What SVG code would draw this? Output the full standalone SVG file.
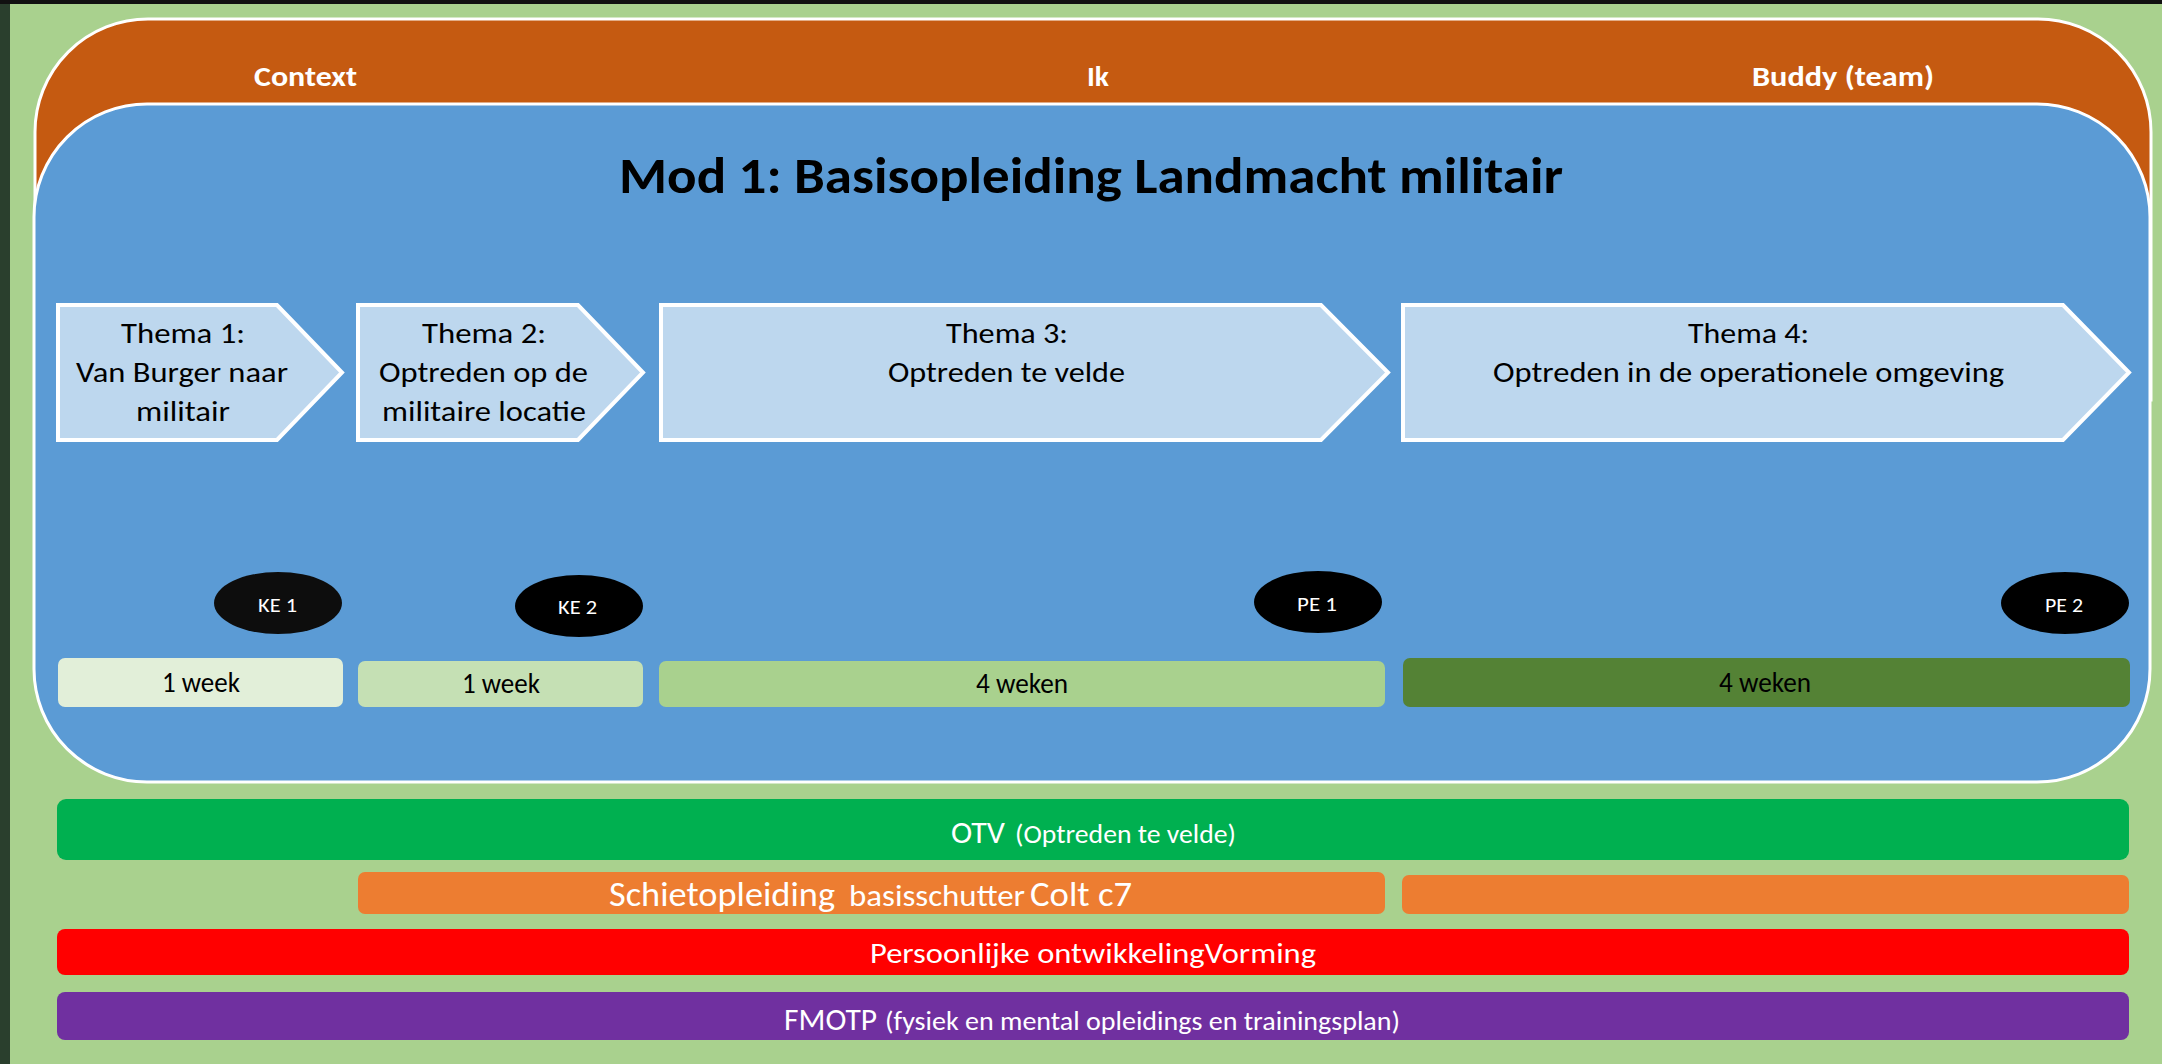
<svg xmlns="http://www.w3.org/2000/svg" width="2162" height="1064" viewBox="0 0 2162 1064">
<style>
text{font-family:Carlito,"Liberation Sans",Arial,sans-serif}
.hdr{font-size:29px;font-weight:bold;fill:#ffffff}
.title{font-size:50px;font-weight:bold;fill:#000000}
.arrow{fill:#bdd7ee;stroke:#ffffff;stroke-width:4}
.at{font-size:28px;fill:#000000}
.ell{fill:#000000}
.et{font-size:21px;fill:#ffffff}
.wk{font-size:28px;fill:#000000}
.wt{fill:#ffffff}
</style>
<rect x="0" y="0" width="2162" height="1064" fill="#a9d18e"/>
<rect x="0" y="0" width="10" height="1064" fill="#2a3f2d"/>
<rect x="0" y="0" width="2162" height="4" fill="#111111"/>
<g id="context-band">
<path d="M35,400 V132 A113,113 0 0 1 148,19 H2038 A113,113 0 0 1 2151,132 V400 Z" fill="#c55a11" stroke="#ffffff" stroke-width="3"/>
<text class="hdr" x="254" y="86" textLength="103" lengthAdjust="spacingAndGlyphs">Context</text>
<text class="hdr" x="1087" y="86" textLength="22" lengthAdjust="spacingAndGlyphs">Ik</text>
<text class="hdr" x="1752" y="86" textLength="182" lengthAdjust="spacingAndGlyphs">Buddy (team)</text>
</g>
<g id="module">
<rect x="34" y="104" width="2116" height="678" rx="113" ry="113" fill="#5b9bd5" stroke="#ffffff" stroke-width="3"/>
<text class="title" x="619" y="193" textLength="944" lengthAdjust="spacingAndGlyphs">Mod 1: Basisopleiding Landmacht militair</text>
</g>
<g id="thema1">
<polygon class="arrow" points="58,305 277,305 342,372.5 277,440 58,440"/>
<text class="at" x="121" y="343" textLength="124" lengthAdjust="spacingAndGlyphs">Thema 1:</text>
<text class="at" x="76" y="382" textLength="212" lengthAdjust="spacingAndGlyphs">Van Burger naar</text>
<text class="at" x="136" y="421" textLength="94" lengthAdjust="spacingAndGlyphs">militair</text>
</g>
<g id="thema2">
<polygon class="arrow" points="358,305 578,305 643,372.5 578,440 358,440"/>
<text class="at" x="422" y="343" textLength="124" lengthAdjust="spacingAndGlyphs">Thema 2:</text>
<text class="at" x="379" y="382" textLength="209" lengthAdjust="spacingAndGlyphs">Optreden op de</text>
<text class="at" x="382" y="421" textLength="204" lengthAdjust="spacingAndGlyphs">militaire locatie</text>
</g>
<g id="thema3">
<polygon class="arrow" points="661,305 1321,305 1388,372.5 1321,440 661,440"/>
<text class="at" x="946" y="343" textLength="122" lengthAdjust="spacingAndGlyphs">Thema 3:</text>
<text class="at" x="888" y="382" textLength="237" lengthAdjust="spacingAndGlyphs">Optreden te velde</text>
</g>
<g id="thema4">
<polygon class="arrow" points="1403,305 2063,305 2129,372.5 2063,440 1403,440"/>
<text class="at" x="1688" y="343" textLength="121" lengthAdjust="spacingAndGlyphs">Thema 4:</text>
<text class="at" x="1493" y="382" textLength="511" lengthAdjust="spacingAndGlyphs">Optreden in de operationele omgeving</text>
</g>
<g id="ke1">
<ellipse cx="278" cy="603" rx="64" ry="31" fill="#0d0d0d"/>
<text class="et" x="258" y="612" textLength="39" lengthAdjust="spacingAndGlyphs">KE 1</text>
</g>
<g id="ke2">
<ellipse class="ell" cx="579" cy="606" rx="64" ry="31"/>
<text class="et" x="558" y="614" textLength="39" lengthAdjust="spacingAndGlyphs">KE 2</text>
</g>
<g id="pe1">
<ellipse class="ell" cx="1318" cy="602" rx="64" ry="31"/>
<text class="et" x="1297" y="611" textLength="40" lengthAdjust="spacingAndGlyphs">PE 1</text>
</g>
<g id="pe2">
<ellipse class="ell" cx="2065" cy="603" rx="64" ry="31"/>
<text class="et" x="2045" y="612" textLength="38" lengthAdjust="spacingAndGlyphs">PE 2</text>
</g>
<g id="week1">
<rect x="58" y="658" width="285" height="49" rx="7" fill="#e2efd9"/>
<text class="wk" x="162" y="692" textLength="78" lengthAdjust="spacingAndGlyphs">1 week</text>
</g>
<g id="week2">
<rect x="358" y="661" width="285" height="46" rx="7" fill="#c5e0b4"/>
<text class="wk" x="462" y="693" textLength="78" lengthAdjust="spacingAndGlyphs">1 week</text>
</g>
<g id="weken3">
<rect x="659" y="661" width="726" height="46" rx="7" fill="#a9d18e"/>
<text class="wk" x="976" y="693" textLength="92" lengthAdjust="spacingAndGlyphs">4 weken</text>
</g>
<g id="weken4">
<rect x="1403" y="658" width="727" height="49" rx="7" fill="#548235"/>
<text class="wk" x="1719" y="692" textLength="92" lengthAdjust="spacingAndGlyphs">4 weken</text>
</g>
<g id="otv">
<rect x="57" y="799" width="2072" height="61" rx="9" fill="#00b050"/>
<text class="wt" x="951" y="843" font-size="31" textLength="54" lengthAdjust="spacingAndGlyphs">OTV</text>
<text class="wt" x="1015" y="843" font-size="27" textLength="221" lengthAdjust="spacingAndGlyphs">(Optreden te velde)</text>
</g>
<g id="schiet1">
<rect x="358" y="872" width="1027" height="42" rx="7" fill="#ed7d31"/>
<text class="wt" x="609" y="906" font-size="34" textLength="226" lengthAdjust="spacingAndGlyphs">Schietopleiding</text>
<text class="wt" x="849" y="906" font-size="31" textLength="176" lengthAdjust="spacingAndGlyphs">basisschutter</text>
<text class="wt" x="1030" y="906" font-size="34" textLength="102" lengthAdjust="spacingAndGlyphs">Colt c7</text>
</g>
<g id="schiet2">
<rect x="1402" y="875" width="727" height="39" rx="7" fill="#ed7d31"/>
</g>
<g id="vorming">
<rect x="57" y="929" width="2072" height="46" rx="8" fill="#ff0000"/>
<text class="wt" x="870" y="963" font-size="29" textLength="446" lengthAdjust="spacingAndGlyphs">Persoonlijke ontwikkelingVorming</text>
</g>
<g id="fmotp">
<rect x="57" y="992" width="2072" height="48" rx="8" fill="#7030a0"/>
<text class="wt" x="784" y="1030" font-size="31" textLength="93" lengthAdjust="spacingAndGlyphs">FMOTP</text>
<text class="wt" x="885" y="1030" font-size="27" textLength="515" lengthAdjust="spacingAndGlyphs">(fysiek en mental opleidings en trainingsplan)</text>
</g>
<g id="connectors"/>
</svg>
